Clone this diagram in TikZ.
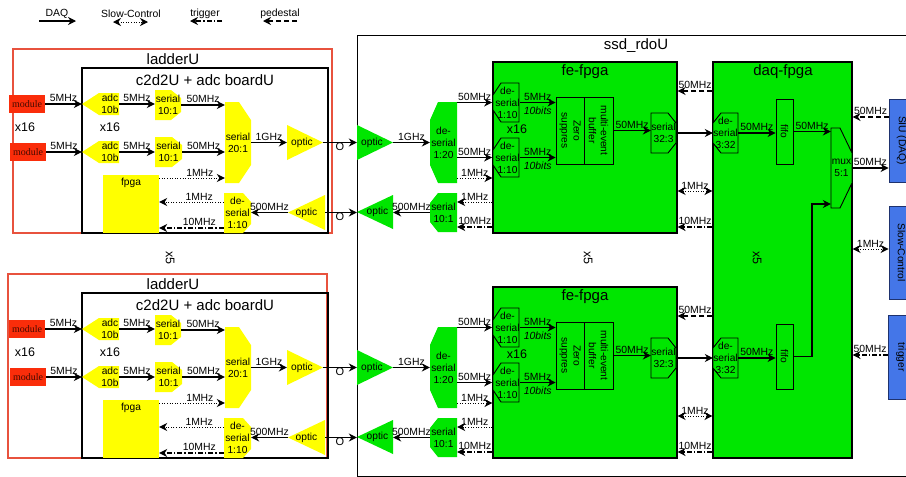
\documentclass[tikz,border=0pt]{standalone}
\usepackage{fontspec}
\setmainfont{Liberation Sans}
\newfontfamily\modfont{Liberation Serif}
\usetikzlibrary{arrows.meta}
\definecolor{yel}{RGB}{255,255,0}
\definecolor{grn}{RGB}{0,230,0}
\definecolor{modred}{RGB}{250,45,10}
\definecolor{modtxt}{RGB}{70,10,0}
\definecolor{boxred}{RGB}{232,82,62}
\definecolor{blu}{RGB}{68,118,232}
\definecolor{bluborder}{RGB}{30,50,110}
\tikzset{
 sol/.style={line width=1.1pt,->},
 dotl/.style={line width=1pt,->,dash pattern=on 1pt off 1.6pt},
 dbl/.style={line width=1pt,<->,dash pattern=on 1pt off 1.6pt},
 dashl/.style={line width=1.1pt,->,dash pattern=on 5pt off 3pt},
 ddl/.style={line width=1.1pt,->,dash pattern=on 5pt off 2pt on 1.4pt off 2pt},
 lab/.style={font=\fontsize{10.4}{12}\selectfont, inner sep=1.5pt},
 la/.style={lab, above},
 lb/.style={lab, below},
 txt/.style={font=\fontsize{10.2}{12}\selectfont, align=center, inner sep=0pt},
 ttl/.style={font=\fontsize{15}{18}\selectfont, inner sep=0pt},
 xsix/.style={font=\fontsize{12.5}{15}\selectfont, inner sep=0pt},
 rbox/.style={draw=black, line width=0.9pt, inner sep=0pt},
 gbox/.style={fill=grn, draw=black, line width=1.1pt, inner sep=0pt},
 modb/.style={fill=modred, text=modtxt, font=\modfont\fontsize{10}{12}\selectfont, minimum width=36pt, minimum height=18pt, inner sep=0pt},
 blub/.style={fill=blu, draw=bluborder, line width=0.9pt, inner sep=0pt},
 gout/.style={fill=grn, draw=black, line width=0.9pt},
}
% right-chamfered shape
\newcommand\chR[9]{%
  \path[#1] (#3,#4) -- ({#5-#7},#4) -- (#5,{#4+#8}) -- (#5,{#6-#8}) -- ({#5-#7},#6) -- (#3,#6) -- cycle;
  \node[txt, minimum width={#5-#3}, minimum height={#6-#4}] (#2) at ({(#3+#5)/2},{(#4+#6)/2}) {#9};}
% left-chamfered shape
\newcommand\chL[9]{%
  \path[#1] ({#3+#7},#4) -- (#5,#4) -- (#5,#6) -- ({#3+#7},#6) -- (#3,{#6-#8}) -- (#3,{#4+#8}) -- cycle;
  \node[txt, minimum width={#5-#3}, minimum height={#6-#4}] (#2) at ({(#3+#5)/2},{(#4+#6)/2}) {#9};}
% triangles
\newcommand\triR[7]{%
  \path[#1] (#3,#4) -- (#5,{(#4+#6)/2}) -- (#3,#6) -- cycle;
  \node[txt, minimum width={#5-#3}, minimum height={#6-#4}] (#2) at ({(#3+#5)/2},{(#4+#6)/2}) {#7};}
\newcommand\triL[7]{%
  \path[#1] (#5,#4) -- (#3,{(#4+#6)/2}) -- (#5,#6) -- cycle;
  \node[txt, minimum width={#5-#3}, minimum height={#6-#4}] (#2) at ({(#3+#5)/2},{(#4+#6)/2}) {#7};}

\newcommand\halfpart[3]{%
 \coordinate (#3L178) at (0,178);
 \coordinate (#3L202) at (0,202);
 \coordinate (#3L228) at (0,228);
 \coordinate (#3L91) at (0,91);
 \coordinate (#3L191) at (0,191);
 \coordinate (#3L227) at (0,227);
 % ---------- ladder ----------
 \node[draw=boxred, line width=1.1pt, inner sep=0pt, minimum width={#2-#1}, minimum height=184] (#3lad) at ({(#1+#2)/2},141) {};
 \node[ttl] (#3ladt) at (173,59) {ladderU};
 \node[draw=black, line width=1.2pt, inner sep=0pt, minimum width=246, minimum height=165] (#3c2d) at (205,150.5) {};
 \node[ttl] (#3c2dt) at (205,80) {c2d2U + adc boardU};
 \node[modb] (#3m1) at (27,104) {module};
 \node[modb] (#3m2) at (28,152) {module};
 \node[xsix] (#3xa) at (25,127) {x16};
 \chL{fill=yel}{#3adc1}{82}{93}{119}{115}{17}{11}{}
 \node[txt] (#3adc1l) at (110,104) {adc\\10b};
 \chL{fill=yel}{#3adc2}{82}{141}{119}{163}{17}{11}{}
 \node[txt] (#3adc2l) at (110,152) {adc\\10b};
 \node[xsix] (#3xb) at (110,127) {x16};
 \chR{fill=yel}{#3s1}{155}{90}{181}{120}{10}{8}{serial\\10:1}
 \chR{fill=yel}{#3s2}{155}{137}{182}{167}{10}{8}{serial\\10:1}
 \chR{fill=yel}{#3s20}{225}{102}{251}{183}{12}{18}{serial\\20:1}
 \triR{fill=yel}{#3ot}{287}{125}{323}{160}{\hspace*{-6pt}optic}
 \node[fill=yel, inner sep=0pt, minimum width=56, minimum height=58] (#3fp) at (131,204) {};
 \node[txt] (#3fpl) at (131,183) {fpga};
 \chR{fill=yel}{#3d10}{224}{193}{251}{233}{8}{9}{de-\\serial\\1:10}
 \triL{fill=yel}{#3or}{288}{195}{325}{230}{optic}
 % ladder connectors
 \draw[sol] (#3m1.east) -- node[la] (#3k1) {5MHz} (#3adc1.west);
 \draw[sol] (#3m2.east) -- node[la] (#3k2) {5MHz} (#3adc2.west);
 \draw[sol] (#3adc1.east) -- node[la] (#3k3) {5MHz} (#3adc1.east -| #3s1.west);
 \draw[sol] (#3adc2.east) -- node[la] (#3k4) {5MHz} (#3adc2.east -| #3s2.west);
 \draw[sol] (#3s1.east) -- node[la] (#3k5) {50MHz} (#3s1.east -| #3s20.west);
 \draw[sol] (#3s2.east) -- node[la] (#3k6) {50MHz} (#3s2.east -| #3s20.west);
 \draw[sol] (#3s20.east) -- node[la] (#3k7) {1GHz} (#3ot.west);
 \draw[dotl] (#3fp.east |- #3L178) -- node[la,pos=0.62] (#3k8) {1MHz} (#3s20.west |- #3L178);
 \draw[dotl] (#3d10.west |- #3L202) -- node[la,pos=0.38] (#3k9) {1MHz} (#3fp.east |- #3L202);
 \draw[ddl] (#3d10.west |- #3L228) -- node[la,pos=0.38] (#3k10) {10MHz} (#3fp.east |- #3L228);
 \draw[sol] (#3or.west) -- node[la] (#3k11) {500MHz} (#3or.west -| #3d10.east);
 % ---------- ssd side ----------
 \triR{fill=grn}{#3gt}{357}{125}{393}{160}{\hspace*{-6pt}optic}
 \chL{fill=grn}{#3d20}{430}{102}{457}{183}{8}{18}{de-\\serial\\1:20}
 \triL{fill=grn}{#3gr}{357}{195}{393}{229}{optic\hspace*{-5pt}}
 \chL{fill=grn}{#3s10g}{430}{193}{457}{232}{8}{10}{serial\\10:1}
 \draw[sol] (#3ot.east) -- (#3ot.east -| #3gt.west);
 \node[font=\fontsize{11}{12}\selectfont, inner sep=0pt] (#3o1) at (340,146.5) {O};
 \draw[sol] (#3or.east) -- (#3or.east -| #3gr.west);
 \node[font=\fontsize{11}{12}\selectfont, inner sep=0pt] (#3o2) at (340,217) {O};
 \node[gbox, minimum width=184, minimum height=171] (#3fe) at (585,147.5) {};
 \node[ttl] (#3fet) at (585,72) {fe-fpga};
 \chL{gout}{#3dA}{493}{83}{519}{122}{8}{12}{\hspace*{3pt}de-\\\hspace*{3pt}serial\\\hspace*{3pt}1:10}
 \chL{gout}{#3dB}{493}{138}{519}{177}{8}{12}{\hspace*{3pt}de-\\\hspace*{3pt}serial\\\hspace*{3pt}1:10}
 \node[xsix] (#3xc) at (517,129) {x16};
 \node[rbox, minimum width=28, minimum height=67] (#3zs) at (570,130.5) {};
 \node[txt, rotate=-90] (#3zst) at (#3zs.center) {Zero\\suppres};
 \node[rbox, minimum width=29, minimum height=67] (#3mb) at (598.5,130.5) {};
 \node[txt, rotate=-90] (#3mbt) at (#3mb.center) {multi-event\\buffer};
 \chR{gout}{#3s32}{651}{113}{676}{153}{8}{10}{serial\\32:3}
 \chL{gout}{#3d332}{713}{113}{738}{153}{8}{10}{de-\\serial\\3:32}
 \node[rbox, minimum width=17, minimum height=65] (#3ff) at (784.5,131.5) {};
 \node[txt, rotate=-90] (#3fft) at (#3ff.center) {fifo};
 % ssd connectors
 \draw[sol] (#3gt.east) -- node[la] (#3k12) {1GHz} (#3gt.east -| #3d20.west);
 \draw[sol] (#3d20.east |- #3dA.west) -- node[la] (#3k13) {50MHz} (#3dA.west);
 \draw[sol] (#3d20.east |- #3dB.west) -- node[la] (#3k14) {50MHz} (#3dB.west);
 \draw[dotl] (#3d20.east |- #3L178) -- node[la] (#3k15) {1MHz} (#3fe.west |- #3L178);
 \draw[dotl] (#3fe.west |- #3L202) -- node[la] (#3k16) {1MHz} (#3s10g.east |- #3L202);
 \draw[ddl] (#3fe.west |- #3L227) -- node[la] (#3k17) {10MHz} (#3s10g.east |- #3L227);
 \draw[sol] (#3s10g.west) -- node[la] (#3k18) {500MHz} (#3s10g.west -| #3gr.east);
 \draw[sol] (#3dA.east) -- node[la] (#3k19) {5MHz} node[lb, yshift=-2pt] (#3k20) {\itshape 10bits} (#3dA.east -| #3zs.west);
 \draw[sol] (#3dB.east) -- node[la] (#3k21) {5MHz} node[lb, yshift=-2pt] (#3k22) {\itshape 10bits} (#3dB.east -| #3zs.west);
 \draw[sol] (#3mb.east) -- node[la] (#3k23) {50MHz} (#3mb.east -| #3s32.west);
 \draw[sol] (#3s32.east) -- (#3s32.east -| #3d332.west);
 \draw[sol] (#3d332.east) -- node[la] (#3k24) {50MHz} (#3d332.east -| #3ff.west);
 \draw[dashl] (daq.west |- #3L91) -- node[la] (#3k25) {50MHz} (#3fe.east |- #3L91);
 \draw[dbl] (#3fe.east |- #3L191) -- node[la] (#3k26) {1MHz} (daq.west |- #3L191);
 \draw[ddl] (daq.west |- #3L227) -- node[la] (#3k27) {10MHz} (#3fe.east |- #3L227);
}

\begin{document}
\begin{tikzpicture}[x=1pt,y=-1pt,>={Stealth[length=8pt,width=8pt,inset=2.6pt]}]
\useasboundingbox (0,0) rectangle (906,477);
\clip (0,0) rectangle (906,477);
\fill[white] (0,0) rectangle (906,477);
% legend
\node[lab] (lg1) at (57,14) {DAQ};
\coordinate (lga1) at (39,21); \coordinate (lga2) at (76,21);
\draw[sol] (lga1) -- (lga2);
\node[lab] (lg2) at (131,14) {Slow-Control};
\coordinate (lgb1) at (113,22); \coordinate (lgb2) at (148,22);
\draw[dbl] (lgb1) -- (lgb2);
\node[lab] (lg3) at (205,14) {trigger};
\coordinate (lgc1) at (222,21); \coordinate (lgc2) at (190,21);
\draw[ddl] (lgc1) -- (lgc2);
\node[lab] (lg4) at (280,14) {pedestal};
\coordinate (lgd1) at (297,21); \coordinate (lgd2) at (263,21);
\draw[dashl] (lgd1) -- (lgd2);
% ssd_rdoU box
\node[draw=black, line width=1.1pt, inner sep=0pt, minimum width=570, minimum height=441, anchor=north west] (ssd) at (357,35) {};
\node[ttl] (ssdt) at (636,46) {ssd\_rdoU};
% daq-fpga box
\node[gbox, minimum width=139, minimum height=396] (daq) at (782.5,260) {};
\node[ttl] (daqt) at (783,72) {daq-fpga};
% halves
\halfpart{13}{332}{t}
\begin{scope}[yshift=-225pt]
\halfpart{8}{327}{b}
\end{scope}
% x5 labels
\node[xsix, rotate=-90] (x5a) at (170,258) {x5};
\node[xsix, rotate=-90] (x5b) at (588,258) {x5};
\node[xsix, rotate=-90] (x5c) at (757,258) {x5};
% mux
\chR{gout}{mux}{831}{128}{852}{208}{12}{25}{mux\\5:1}
% blue boxes
\node[blub, minimum width=25, minimum height=83] (siu) at (901.5,140.5) {};
\node[txt, rotate=-90] (siut) at (siu.center) {SIU (DAQ)};
\node[blub, minimum width=25, minimum height=93] (slow) at (901.5,252.5) {};
\node[txt, rotate=-90] (slowt) at (slow.center) {Slow-Control};
\node[blub, minimum width=26, minimum height=84] (trig) at (901,357) {};
\node[txt, rotate=-90] (trigt) at (trig.center) {trigger};
% global connectors
\coordinate (muxin) at (812,204);
\coordinate (G117) at (0,117);
\coordinate (G249) at (0,249);
\coordinate (G355) at (0,355);
\draw[sol] (tff.east) -- node[la] (g1) {50MHz} (tff.east -| mux.west);
\draw[sol] (bff.east) -| (muxin) -- (muxin -| mux.west);
\draw[sol] (mux.east) -- node[la] (g2) {50MHz} (mux.east -| siu.west);
\draw[dashl] (siu.west |- G117) -- node[la] (g3) {50MHz} (daq.east |- G117);
\draw[dbl] (daq.east |- G249) -- node[la] (g4) {1MHz} (slow.west |- G249);
\draw[ddl] (trig.west |- G355) -- node[la] (g5) {50MHz} (daq.east |- G355);
\end{tikzpicture}
\end{document}
